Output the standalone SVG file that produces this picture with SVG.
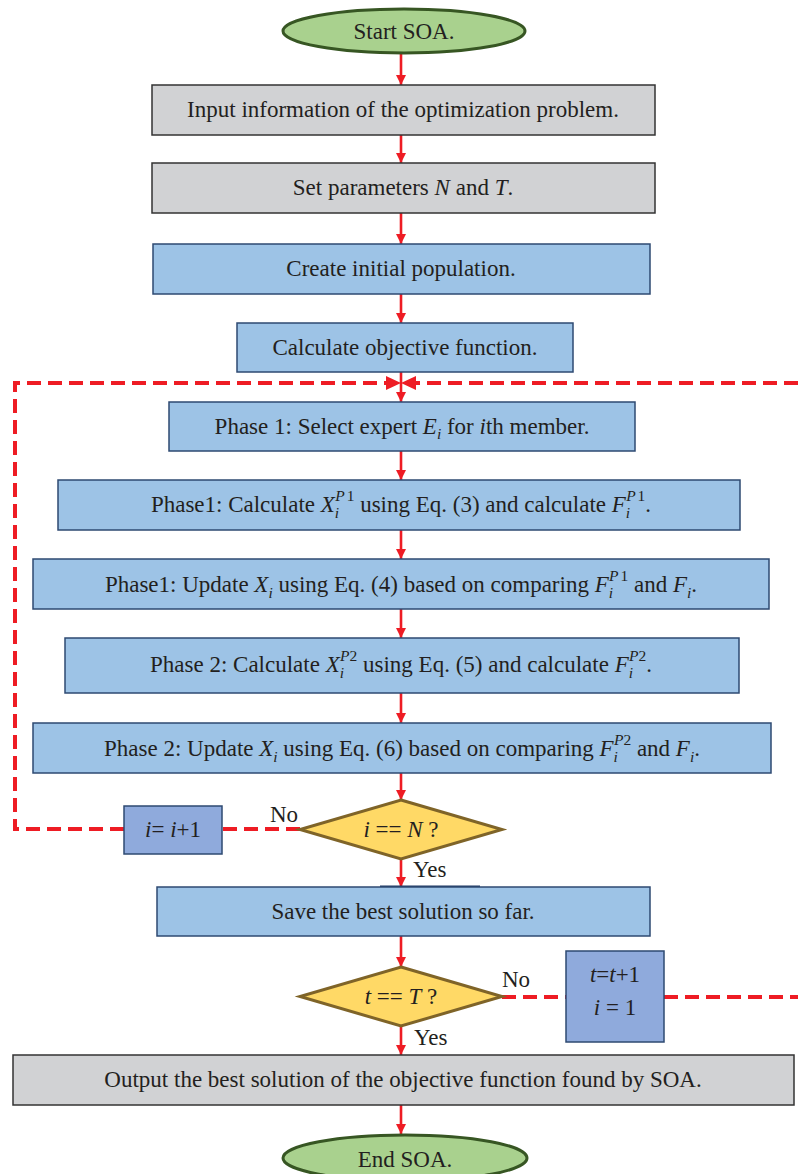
<svg xmlns="http://www.w3.org/2000/svg" width="798" height="1174" viewBox="0 0 798 1174">
<defs>
<marker id="ah" viewBox="0 0 10 10" refX="10" refY="5" markerWidth="4" markerHeight="4" orient="auto" markerUnits="strokeWidth"><path d="M0,0 L10,5 L0,10 z" fill="#ee1c24"/></marker>
<style>
text{font-family:"Liberation Serif","Times New Roman",serif;font-size:23px;fill:#231f20;text-anchor:middle}
.it{font-style:italic}
.sm{font-size:15.5px}
.gray{fill:#d1d2d4;stroke:#333;stroke-width:1.5}
.blue{fill:#9dc3e6;stroke:#2e4a72;stroke-width:1.5}
.dblue{fill:#8faadc;stroke:#2e4a72;stroke-width:1.5}
.dia{fill:#ffd966;stroke:#7f6428;stroke-width:3}
.ell{fill:#a9d18e;stroke:#375623;stroke-width:3}
.arr{stroke:#ee1c24;stroke-width:2.6;fill:none;marker-end:url(#ah)}
.dash{stroke:#ee1c24;stroke-width:4;fill:none;stroke-dasharray:14 7}
.lab{text-anchor:start}
</style>
</defs>
<g id="connectors">
<line class="arr" x1="401" y1="53" x2="401" y2="85"/>
<line class="arr" x1="401" y1="135" x2="401" y2="163"/>
<line class="arr" x1="401" y1="213" x2="401" y2="244"/>
<line class="arr" x1="401" y1="294" x2="401" y2="323"/>
<line class="arr" x1="401" y1="372" x2="401" y2="402"/>
<line class="arr" x1="401" y1="451" x2="401" y2="480"/>
<line class="arr" x1="401" y1="530" x2="401" y2="559"/>
<line class="arr" x1="401" y1="609" x2="401" y2="638"/>
<line class="arr" x1="401" y1="693" x2="401" y2="723"/>
<line class="arr" x1="401" y1="773" x2="401" y2="800"/>
<line class="arr" x1="401" y1="859" x2="401" y2="887"/>
<line class="arr" x1="401" y1="936" x2="401" y2="967"/>
<line class="arr" x1="401" y1="1026" x2="401" y2="1055"/>
<line class="arr" x1="401" y1="1105" x2="401" y2="1134"/>
<line x1="380" y1="887" x2="480" y2="887" stroke="#1f3864" stroke-width="3"/>
<path class="dash" d="M300,829 H222"/>
<path class="dash" d="M124,829 H15 V383 H386"/>
<path class="dash" d="M798,383 H416"/>
<path d="M386,376 L401,383 L386,390 z" fill="#ee1c24"/>
<path d="M416,376 L401,383 L416,390 z" fill="#ee1c24"/>
<path class="dash" d="M502,997 H566"/>
<path class="dash" d="M664,997 H798"/>
<text class="lab" x="270" y="822">No</text>
<text class="lab" x="413" y="877">Yes</text>
<text class="lab" x="502" y="987">No</text>
<text class="lab" x="414" y="1045">Yes</text>
</g>
<g id="start"><ellipse class="ell" cx="404" cy="31" rx="121" ry="22"/><text x="404" y="39">Start SOA.</text></g>
<g id="input"><rect class="gray" x="152" y="85" width="503" height="50"/><text x="403" y="117">Input information of the optimization problem.</text></g>
<g id="params"><rect class="gray" x="152" y="163" width="503" height="50"/><text x="403" y="195">Set parameters <tspan class="it">N</tspan> and <tspan class="it">T</tspan>.</text></g>
<g id="init"><rect class="blue" x="153" y="244" width="497" height="50"/><text x="401" y="276">Create initial population.</text></g>
<g id="calcobj"><rect class="blue" x="237" y="323" width="336" height="49"/><text x="405" y="355">Calculate objective function.</text></g>
<g id="phase1select"><rect class="blue" x="169" y="402" width="466" height="49"/><text x="402" y="434">Phase 1: Select expert <tspan class="it">E</tspan><tspan class="it sm" dy="5">i</tspan><tspan dy="-5"> for </tspan><tspan class="it">i</tspan>th member.</text></g>
<g id="phase1calc"><rect class="blue" x="58" y="480" width="682" height="50"/><text x="401" y="512">Phase1: Calculate <tspan class="it">X</tspan><tspan class="it sm" dy="6">i</tspan><tspan class="sm" dx="-4" dy="-17"><tspan class="it">P</tspan><tspan dx="2">1</tspan></tspan><tspan dy="11"> using Eq. (3) and calculate </tspan><tspan class="it">F</tspan><tspan class="it sm" dy="6">i</tspan><tspan class="sm" dx="-4" dy="-17"><tspan class="it">P</tspan><tspan dx="2">1</tspan></tspan><tspan dy="11">.</tspan></text></g>
<g id="phase1update"><rect class="blue" x="33" y="559" width="736" height="50"/><text x="401" y="592">Phase1: Update <tspan class="it">X</tspan><tspan class="it sm" dy="6">i</tspan><tspan dy="-6"> using Eq. (4) based on comparing </tspan><tspan class="it">F</tspan><tspan class="it sm" dy="6">i</tspan><tspan class="sm" dx="-4" dy="-17"><tspan class="it">P</tspan><tspan dx="2">1</tspan></tspan><tspan dy="11"> and </tspan><tspan class="it">F</tspan><tspan class="it sm" dy="6">i</tspan><tspan dy="-6">.</tspan></text></g>
<g id="phase2calc"><rect class="blue" x="65" y="638" width="674" height="55"/><text x="401" y="672">Phase 2: Calculate <tspan class="it">X</tspan><tspan class="it sm" dy="6">i</tspan><tspan class="sm" dx="-4" dy="-17"><tspan class="it">P</tspan>2</tspan><tspan dy="11"> using Eq. (5) and calculate </tspan><tspan class="it">F</tspan><tspan class="it sm" dy="6">i</tspan><tspan class="sm" dx="-4" dy="-17"><tspan class="it">P</tspan>2</tspan><tspan dy="11">.</tspan></text></g>
<g id="phase2update"><rect class="blue" x="33" y="723" width="738" height="50"/><text x="402" y="756">Phase 2: Update <tspan class="it">X</tspan><tspan class="it sm" dy="6">i</tspan><tspan dy="-6"> using Eq. (6) based on comparing </tspan><tspan class="it">F</tspan><tspan class="it sm" dy="6">i</tspan><tspan class="sm" dx="-4" dy="-17"><tspan class="it">P</tspan>2</tspan><tspan dy="11"> and </tspan><tspan class="it">F</tspan><tspan class="it sm" dy="6">i</tspan><tspan dy="-6">.</tspan></text></g>
<g id="checkN"><polygon class="dia" points="401,800 502,829.5 401,859 300,829.5"/><text x="401" y="837"><tspan class="it">i</tspan> == <tspan class="it">N</tspan> ?</text></g>
<g id="incI"><rect class="dblue" x="124" y="806" width="98" height="48"/><text x="173" y="837"><tspan class="it">i</tspan>= <tspan class="it">i</tspan>+1</text></g>
<g id="save"><rect class="blue" x="157" y="887" width="493" height="49"/><text x="403" y="919">Save the best solution so far.</text></g>
<g id="checkT"><polygon class="dia" points="401,967 502,996.5 401,1026 300,996.5"/><text x="401" y="1004"><tspan class="it">t</tspan> == <tspan class="it">T</tspan> ?</text></g>
<g id="incT"><rect class="dblue" x="566" y="951" width="98" height="91"/><text x="615" y="982"><tspan class="it">t</tspan>=<tspan class="it">t</tspan>+1</text><text x="615" y="1015"><tspan class="it">i</tspan> = 1</text></g>
<g id="output"><rect class="gray" x="13" y="1055" width="781" height="50"/><text x="403" y="1087">Output the best solution of the objective function found by SOA.</text></g>
<g id="end"><ellipse class="ell" cx="405" cy="1158" rx="122" ry="23"/><text x="405" y="1167">End SOA.</text></g>
</svg>
